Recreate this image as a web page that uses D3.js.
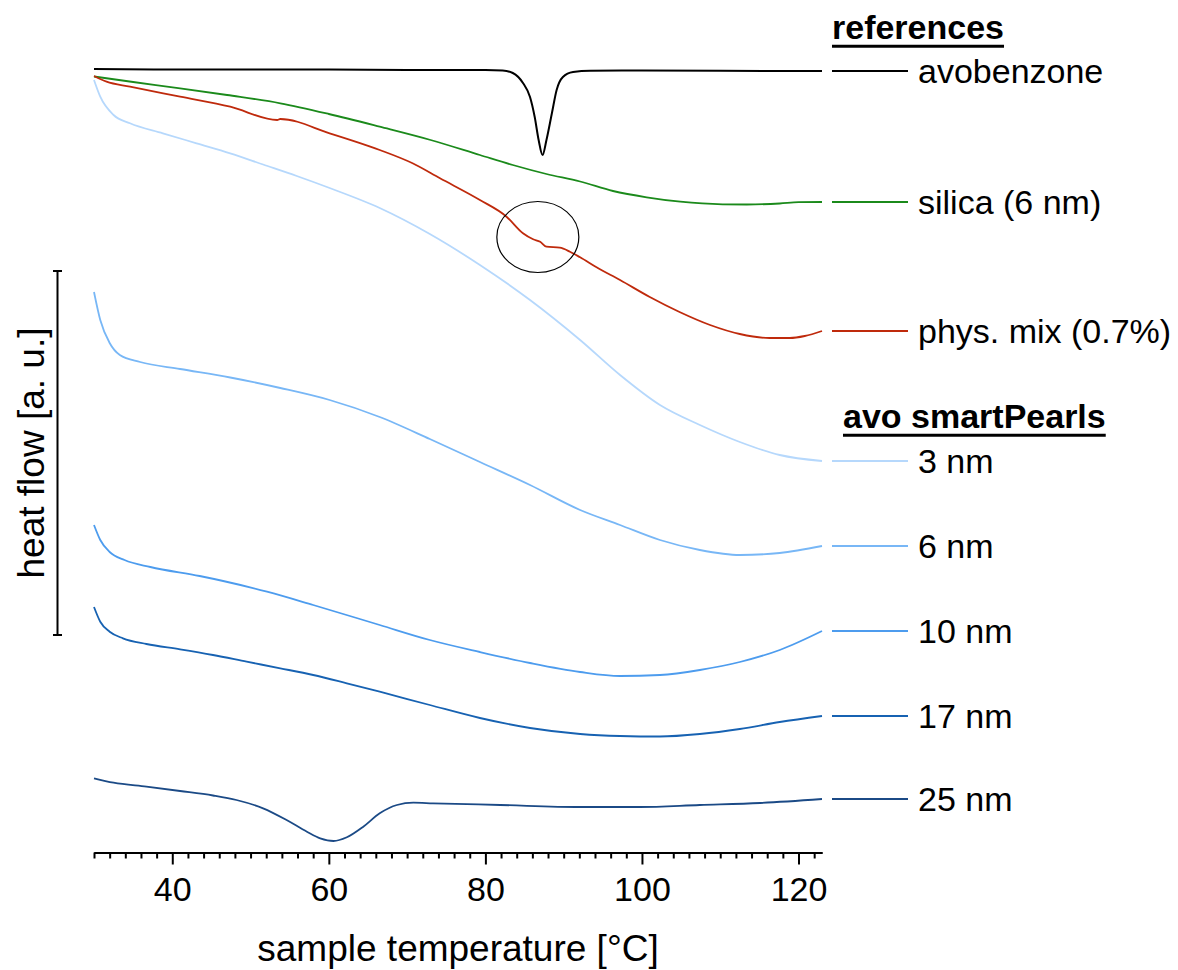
<!DOCTYPE html>
<html>
<head>
<meta charset="utf-8">
<script src="https://cdn.jsdelivr.net/npm/d3@7/dist/d3.min.js"></script>
<style>
  html, body { margin: 0; padding: 0; background: #fff; }
  svg { display: block; }
  text { font-family: "Liberation Sans", Arial, Helvetica, sans-serif; fill: #000; }
</style>
</head>
<body>
<svg id="chart" width="1178" height="970"></svg>
<script>
// DSC traces: [temperature °C, heat flow (a.u., stacked with offsets)]
const avobenzone = [
  [30, 784], [40, 783.5], [50, 783.5], [60, 783.5], [70, 783], [80, 783], [82.2, 782.5],
  [83.5, 780], [84.8, 770], [85.7, 756], [86.3, 736], [86.8, 713], [87.3, 698],
  [87.8, 713], [88.5, 740], [89.1, 763], [89.9, 776], [91.2, 781], [93.4, 782.3],
  [100, 782.5], [110, 782.2], [123, 782]
];
const silica = [
  [30, 776.5], [35, 771], [41, 764.7], [47, 758], [53.8, 749.7], [60, 739], [66.5, 726.3],
  [73, 713], [79.3, 698], [83.5, 688], [87.8, 679], [92.1, 671.5], [96.3, 662],
  [100.6, 655.7], [104.9, 651.3], [110.3, 648.7], [113.4, 648.5], [117.6, 649.5],
  [120, 650.8], [123, 651]
];
const physMix = [
  [30, 777], [31.6, 771.3], [34.6, 766.3], [41, 756.3], [47.4, 746.3], [53.4, 733],
  [53.8, 734], [60.1, 719.7], [66.5, 703], [70.7, 689.7], [74.2, 674.7], [79.3, 653],
  [82.7, 636.3], [84.8, 619.7], [86.1, 613.7], [87.0, 611.3], [87.8, 606.3], [89.5, 605.3],
  [90.8, 601.3], [92.1, 595.7], [94.2, 585.7], [97.2, 573], [101.0, 556], [104.8, 541],
  [108.7, 528], [112.5, 519], [116.3, 515], [118.9, 515], [120.8, 517], [123, 522]
];
const pearls3 = [
  [30, 773], [30.8, 756.3], [32.5, 738], [34.6, 729.7], [38.8, 719.7], [43.1, 709.7],
  [47.4, 699.7], [51.6, 688.5], [55.9, 677], [60.1, 665], [66.5, 645], [72.9, 619],
  [79.3, 588], [85.7, 553], [92.1, 513], [97.2, 478], [102.3, 448], [107.4, 428],
  [112.5, 411], [117.6, 398], [123, 392]
];
const pearls6 = [
  [30, 561], [30.8, 533], [32.0, 510], [33.3, 498], [35.9, 491], [41.0, 484], [47.4, 475.5],
  [53.8, 465], [60.1, 453], [66.5, 436], [72.9, 414], [79.3, 391], [85.7, 368],
  [92.1, 343], [97.2, 328], [102.3, 313], [107.4, 303], [112.5, 298], [117.6, 300], [123, 307]
];
const pearls10 = [
  [30, 328], [30.8, 313], [32.0, 301], [33.9, 293], [37.2, 286], [43.5, 277], [46.5, 272],
  [52.1, 261.3], [58.0, 248], [66.5, 228], [72.9, 213], [79.3, 201], [85.7, 190],
  [92.1, 181], [97.2, 177], [102.3, 178], [107.4, 183], [112.5, 191], [117.6, 203], [123, 222]
];
const pearls17 = [
  [30, 246], [30.8, 231.3], [32.0, 221.3], [33.7, 214.7], [36.7, 209], [41.0, 203.7],
  [45.2, 198], [49.5, 191.3], [53.8, 184.7], [58.0, 178], [62.3, 169.7], [66.5, 161.3],
  [72.9, 148], [79.3, 135], [85.7, 125], [92.1, 119], [97.2, 117], [102.3, 116.5],
  [107.4, 119], [112.5, 124], [117.6, 131], [123, 137]
];
const pearls25 = [
  [30, 74.7], [32.5, 70.3], [36.7, 66.3], [41.0, 62], [45.2, 57.5], [48.2, 53], [51.6, 44.7],
  [54.6, 33], [57.2, 21.3], [58.9, 14.7], [60.6, 12], [62.3, 15.7], [64.4, 26.3],
  [66.5, 39.7], [68.7, 48], [70.8, 50.3], [73.3, 49.7], [81.9, 48], [92.1, 46],
  [99.7, 46], [107.4, 48], [115.1, 50], [123, 54]
];

const referenceNames = ["avobenzone", "silica (6 nm)", "phys. mix (0.7%)"];
const pearlNames = ["3 nm", "6 nm", "10 nm", "17 nm", "25 nm"];
const xMajorTicks = [40, 60, 80, 100, 120];

const series = [
  { name: referenceNames[0], data: avobenzone, color: "#000000", width: 2 },
  { name: referenceNames[1], data: silica,     color: "#1b8a1b", width: 1.8 },
  { name: referenceNames[2], data: physMix,    color: "#bf2a0c", width: 1.8 },
  { name: pearlNames[0],     data: pearls3,    color: "#b6d8fc", width: 1.8 },
  { name: pearlNames[1],     data: pearls6,    color: "#78b7f6", width: 1.8 },
  { name: pearlNames[2],     data: pearls10,   color: "#4d9cee", width: 1.8 },
  { name: pearlNames[3],     data: pearls17,   color: "#1762b2", width: 1.8 },
  { name: pearlNames[4],     data: pearls25,   color: "#1b4a86", width: 1.8 }
];

const svg = d3.select("#chart");

const x = d3.scaleLinear().domain([30, 123]).range([94, 822]);
const y = d3.scaleLinear().domain([0, 800]).range([853, 53]);

// traces
const line = d3.line()
  .x(d => x(d[0]))
  .y(d => y(d[1]))
  .curve(d3.curveMonotoneX);

svg.append("g")
  .selectAll("path")
  .data(series)
  .join("path")
  .attr("d", d => line(d.data))
  .attr("fill", "none")
  .attr("stroke", d => d.color)
  .attr("stroke-width", d => d.width)
  .attr("stroke-linejoin", "round");

// highlight around the shoulder of the physical mixture
svg.append("ellipse")
  .attr("cx", x(86.7))
  .attr("cy", y(616))
  .attr("rx", 41)
  .attr("ry", 35.5)
  .attr("fill", "none")
  .attr("stroke", "#000")
  .attr("stroke-width", 1.2);

// x axis: minor ticks every 2 °C, labelled majors every 20 °C
const axisY = 852.5;
const minorAxis = d3.axisBottom(x)
  .tickValues(d3.range(30, 123.1, 2).filter(t => !xMajorTicks.includes(t)))
  .tickSize(6)
  .tickSizeOuter(0)
  .tickFormat("");
const majorAxis = d3.axisBottom(x)
  .tickValues(xMajorTicks)
  .tickSize(12)
  .tickSizeOuter(0)
  .tickPadding(12)
  .tickFormat(d3.format("d"));

const gMinor = svg.append("g").attr("transform", `translate(0,${axisY})`).call(minorAxis);
const gMajor = svg.append("g").attr("transform", `translate(0,${axisY})`).call(majorAxis);
[gMinor, gMajor].forEach(g => {
  g.selectAll("path.domain").attr("stroke", "#000").attr("stroke-width", 2);
  g.selectAll(".tick line").attr("stroke", "#000").attr("stroke-width", 2);
});
gMajor.selectAll(".tick text")
  .style("font-size", "34px")
  .style("font-family", '"Liberation Sans", Arial, sans-serif')
  .attr("fill", "#000");

svg.append("text")
  .attr("x", (x(30) + x(123)) / 2)
  .attr("y", 961)
  .attr("text-anchor", "middle")
  .style("font-size", "37px")
  .text("sample temperature [°C]");

// heat-flow scale bar
const barTop = 271, barBottom = 635, barX = 57.5;
svg.append("line").attr("x1", barX).attr("x2", barX).attr("y1", barTop).attr("y2", barBottom)
  .attr("stroke", "#000").attr("stroke-width", 2);
[barTop, barBottom].forEach(yy => {
  svg.append("line").attr("x1", barX - 4.5).attr("x2", barX + 4.5).attr("y1", yy).attr("y2", yy)
    .attr("stroke", "#000").attr("stroke-width", 2);
});
svg.append("text")
  .attr("transform", `translate(44,${(barTop + barBottom) / 2}) rotate(-90)`)
  .attr("text-anchor", "middle")
  .style("font-size", "37px")
  .text("heat flow [a. u.]");

// legend: a short segment continues each trace at its end level
const legend = svg.append("g");
series.forEach(s => {
  const yy = y(s.data[s.data.length - 1][1]);
  legend.append("line")
    .attr("x1", 832).attr("x2", 908).attr("y1", yy).attr("y2", yy)
    .attr("stroke", s.color).attr("stroke-width", s.width);
  legend.append("text")
    .attr("x", 918).attr("y", yy + 12)
    .style("font-size", "34px")
    .text(s.name);
});

function header(label, hx, baseline) {
  const t = legend.append("text")
    .attr("x", hx).attr("y", baseline)
    .style("font-size", "34px")
    .style("font-weight", "bold")
    .text(label);
  const w = t.node().getComputedTextLength();
  legend.append("line")
    .attr("x1", hx).attr("x2", hx + w)
    .attr("y1", baseline + 7.2).attr("y2", baseline + 7.2)
    .attr("stroke", "#000").attr("stroke-width", 3);
}
header("references", 832, 39);
header("avo smartPearls", 843, 428);
</script>
</body>
</html>
